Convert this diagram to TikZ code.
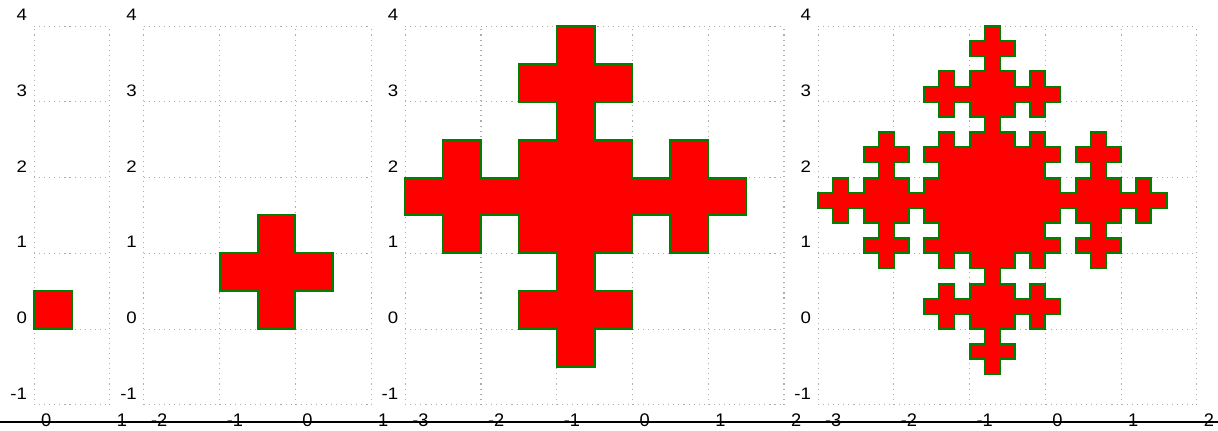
\documentclass[tikz,border=0pt]{standalone}
\usepackage{fontspec}
\setmainfont{Liberation Sans}

% one quarter of each outline, as headings (0 right, -90 down, 180 left, 90 up)
\def\qzero{0}
\def\qone{0,-90,0}
\def\qtwo{0,-90,0,-90,180,-90,0,-90,0,90,0,-90,0}
\def\qthree{0,-90,0,-90,180,-90,0,-90,0,90,0,-90,0,%
-90,180,-90,180,90,180,-90,180,%
-90,0,-90,0,90,0,-90,0,-90,180,-90,0,-90,0,%
90,0,90,180,90,0,90,%
0,-90,0,-90,180,-90,0,-90,0,90,0,-90,0}

\tikzset{
  gridline/.style={gray!65, line width=0.8pt, dash pattern=on 0.8pt off 3pt},
  flake/.style={fill=red, draw=green!50!black, line width=1.5pt},
  ylab/.style={anchor=base east, inner sep=0pt, font=\fontsize{12.5}{14}\selectfont},
  xlab/.style={anchor=base west, inner sep=0pt, font=\fontsize{13.7}{15}\selectfont},
  axisline/.style={black, line width=1.5pt}
}

% grid and labels of one panel: name, shift, xmin, xmax
\newcommand{\panelgrid}[4]{%
  \begin{scope}[shift={(#2,0)}]
    \draw[gridline, step=1] (#3,-1) grid (#4,4);
    \foreach \y in {-1,...,4}
      \node[ylab] (#1y\y) at (#3-0.09,\y+0.07) {\scalebox{1.12}[1]{\y}};
    \foreach \x in {#3,...,#4}
      \node[xlab] (#1x\x) at (\x+0.09,-1.29) {\x};
  \end{scope}}

% filled outline: start point, step, quarter
\newcommand{\flakeshape}[3]{%
  \draw[flake] #1 \foreach \r in {0,-90,-180,-270}{%
    \foreach \a in #3 {-- ++(\a+\r:#2)}} -- cycle;}

\begin{document}
\begin{tikzpicture}[x=2cm, y=2cm]
\useasboundingbox (0,-1.333) rectangle (16.08,4.344);

\panelgrid{a}{0.45}{0}{1}
\panelgrid{b}{3.9}{-2}{1}
\panelgrid{c}{8.35}{-3}{2}
\panelgrid{d}{13.8}{-3}{2}

\begin{scope}[shift={(0.45,0)}]
  \flakeshape{(0,0.5)}{0.5}{\qzero}
\end{scope}
\begin{scope}[shift={(3.9,0)}]
  \flakeshape{(-0.5,1.5)}{0.5}{\qone}
\end{scope}
\begin{scope}[shift={(8.35,0)}]
  \flakeshape{(-1,4)}{0.5}{\qtwo}
\end{scope}
\begin{scope}[shift={(13.8,0)}]
  \flakeshape{(-0.8,4)}{0.2}{\qthree}
\end{scope}

\coordinate (axisL) at (0,-1.224);
\coordinate (axisR) at (16.08,-1.224);
\draw[axisline] (axisL) -- (axisR);
\end{tikzpicture}
\end{document}
